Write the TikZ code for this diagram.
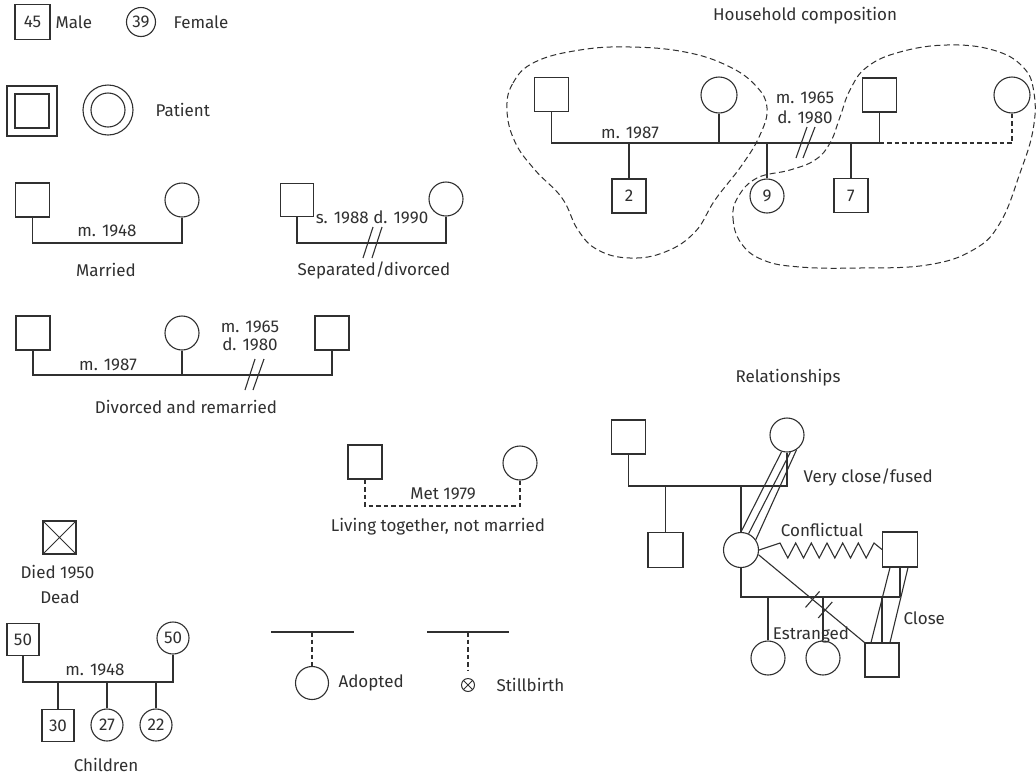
\documentclass[tikz,border=0pt]{standalone}
\usepackage{fontspec}
\setmainfont{Fira Sans}
\usetikzlibrary{calc}
\definecolor{ink}{HTML}{303030}
\newcommand{\gfont}{\fontsize{17}{20}\selectfont}
\begin{document}
\begin{tikzpicture}[x=1pt,y=-1pt,line width=1.1pt,color=ink,
  every node/.style={font=\gfont,text=ink},
  sq/.style={draw,rectangle,minimum size=34pt,inner sep=0pt},
  ci/.style={draw,circle,minimum size=34pt,inner sep=0pt},
  lab/.style={inner sep=0pt},
  labw/.style={inner sep=0pt,anchor=west},
  dsh/.style={dash pattern=on 4.5pt off 3pt},
  blob/.style={line width=1pt,dash pattern=on 6pt off 3.5pt},
  xmark/.style={path picture={\draw[line width=1pt] (path picture bounding box.north west) -- (path picture bounding box.south east) (path picture bounding box.north east) -- (path picture bounding box.south west);}}]
\useasboundingbox[fill=white] (0,0) rectangle (1036,777);

% ---------- key: male / female / patient
\node[sq,minimum size=35pt] (m45) at (32.5,22) {45};
\node[labw] (tmale) at (55,22) {Male};
\node[ci,minimum size=29pt] (f39) at (141,22) {39};
\node[labw] (tfemale) at (173,22) {Female};
\node[sq,minimum size=50pt] (pso) at (32,111) {};
\node[sq] (psi) at (32,111) {};
\node[ci,minimum size=50pt] (pco) at (108,110) {};
\node[ci] (pci) at (108,110) {};
\node[labw] (tpat) at (155,110) {Patient};

% ---------- married
\node[sq] (ma) at (32.5,200) {};
\node[ci] (mb) at (182,200) {};
\draw (ma.south) |- (mb.south |- 0,243) -- (mb.south);
\node[lab] (tm48) at (107,231) {m. 1948};
\node[lab] (tmar) at (106,270) {Married};

% ---------- separated / divorced
\node[sq,minimum size=33pt] (sa) at (297,200) {};
\node[ci] (sb) at (446,199) {};
\draw (sa.south) |- (sb.south |- 0,243) -- (sb.south);
\node[lab] (tsd) at (372,217) {s. 1988 d. 1990};
\draw (363,258) -- (373,227) (372,258) -- (382,227);
\node[lab] (tsep) at (374,270) {Separated/divorced};

% ---------- divorced and remarried
\node[sq] (da) at (33,333) {};
\node[ci] (db) at (182,333) {};
\node[sq] (dc) at (332,333) {};
\draw (da.south) |- (dc.south |- 0,375) -- (dc.south);
\draw (db.south) -- (db.south |- 0,375);
\node[lab] (td87) at (108,365) {m. 1987};
\node[lab] (td65) at (250,327) {m. 1965};
\node[lab] (td80) at (250,344) {d. 1980};
\draw (245,390) -- (255,359) (253,390) -- (264,359);
\node[lab] (tdiv) at (186,407) {Divorced and remarried};

% ---------- living together
\node[sq] (la) at (365,462) {};
\node[ci] (lfem) at (520,463) {};
\draw[dsh] (la.south) |- (lfem.south |- 0,506) -- (lfem.south);
\node[lab] (tmet) at (443,494) {Met 1979};
\node[lab] (tliv) at (438,527) {Living together, not married};

% ---------- dead
\node[sq,minimum size=33pt,xmark] (dead) at (59.5,537.5) {};
\node[lab] (tdied) at (57.5,572) {Died 1950};
\node[lab] (tdead) at (60,597) {Dead};

% ---------- children
\node[sq,minimum size=32pt] (c50m) at (23,639.5) {50};
\node[ci,minimum size=32pt] (c50f) at (173,638) {50};
\draw (c50m.south) |- (c50f.south |- 0,682) -- (c50f.south);
\node[sq,minimum size=32pt] (c30) at (58,725.5) {30};
\node[ci,minimum size=32pt] (c27) at (107,725) {27};
\node[ci,minimum size=32pt] (c22) at (156,725) {22};
\draw (c30.north) -- (c30.north |- 0,682);
\draw (c27.north) -- (c27.north |- 0,682);
\draw (c22.north) -- (c22.north |- 0,682);
\node[lab] (tc48) at (95,670) {m. 1948};
\node[lab] (tchild) at (106,765) {Children};

% ---------- adopted / stillbirth
\coordinate (ad1) at (271,632); \coordinate (ad2) at (354,632);
\draw (ad1) -- (ad2);
\node[ci,minimum size=33pt] (adopt) at (312,683) {};
\draw[dsh] (adopt.north |- ad1) -- (adopt.north);
\node[labw] (tadopt) at (338,683) {Adopted};
\coordinate (st1) at (427,632); \coordinate (st2) at (509,632);
\draw (st1) -- (st2);
\node[draw,circle,minimum size=13pt,inner sep=0pt,line width=1pt,xmark] (still) at (468,685) {};
\draw[dsh,shorten >=8pt] (still.north |- st1) -- (still.north);
\node[labw] (tstill) at (496,685) {Stillbirth};

% ---------- household composition
\node[lab] (thh) at (805,16) {Household composition};
\node[sq] (h1) at (551.5,94.5) {};
\node[ci,minimum size=36pt] (h2) at (719,95) {};
\node[sq] (h3) at (879.5,95) {};
\node[ci,minimum size=36pt] (h4) at (1012,95) {};
\draw (h1.south) |- (h3.south |- 0,143) -- (h3.south);
\draw (h2.south) -- (h2.south |- 0,143);
\draw[dsh] (h3.south |- 0,143) -| (h4.south);
\node[sq] (h5) at (629,196) {2};
\node[ci] (h6) at (767,196) {9};
\node[sq] (h7) at (851,195.5) {7};
\draw (h5.north) -- (h5.north |- 0,143);
\draw (h6.north) -- (h6.north |- 0,143);
\draw (h7.north) -- (h7.north |- 0,143);
\node[lab] (th87) at (630,133) {m. 1987};
\node[lab] (th65) at (805,98) {m. 1965};
\node[lab] (th80) at (805,117) {d. 1980};
\draw (796,158) -- (807,127) (803,158) -- (815,127);
\draw[blob] plot[smooth cycle,tension=0.7] coordinates {
  (507,110) (513,83) (535,62) (580,50) (630,47) (685,52) (728,66) (756,86)
  (767,108) (760,135) (742,165) (715,200) (695,232) (665,252) (630,258)
  (598,250) (578,230) (562,198) (535,170) (515,142)};
\draw[blob] plot[smooth cycle,tension=0.7] coordinates {
  (738,197) (733,218) (741,243) (763,260) (800,267) (860,268) (927,265)
  (973,250) (1000,223) (1020,173) (1033,130) (1034,93) (1023,67) (993,50)
  (947,45) (900,52) (867,67) (850,90) (840,117) (830,143) (815,160)
  (790,170) (757,178)};

% ---------- relationships
\node[lab] (trel) at (788,378) {Relationships};
\node[sq] (r1) at (628.5,437) {};
\node[ci] (r2) at (787,435) {};
\draw (r1.south) |- (r2.south |- 0,486) -- (r2.south);
\node[sq,minimum size=35pt] (r3) at (665.5,550) {};
\node[ci,minimum size=35pt] (r4) at (741,550) {};
\draw (r3.north) -- (r3.north |- 0,486);
\draw (r4.north) -- (r4.north |- 0,486);
\node[sq,minimum size=35pt] (r5) at (900,549.5) {};
\node[ci] (r6) at (768,658) {};
\node[ci] (r7) at (823,658) {};
\node[sq] (r8) at (882,660) {};
\draw (r4.south) |- (r5.south |- 0,597);
\draw (r5.south) -- (r5.south |- 0,597);
\draw (r6.north) -- (r6.north |- 0,597);
\draw (r7.north) -- (r7.north |- 0,597);
\draw (r8.north) -- (r8.north |- 0,597);
% very close / fused
\draw (r4.90) -- (r2.-108);
\draw (r4.65) -- (r2.-79);
\draw (r4.35) -- (r2.-57);
\node[labw] (tvc) at (803,477) {Very close/fused};
% conflictual
\draw (r4.east) -- (780,543) -- (787.8,558) -- (795.7,543) -- (803.5,558) -- (811.3,543)
  -- (819.2,558) -- (827,543) -- (834.8,558) -- (842.7,543) -- (850.5,558)
  -- (858.3,543) -- (866.2,558) -- (874,543) -- (r5.west);
\node[lab] (tconf) at (822,530) {Conflictual};
% estranged
\draw (r4.-15) -- (r8.north west);
\coordinate (tk1) at ($(r4.-15)!0.51!(r8.north west)$);
\coordinate (tk2) at ($(r4.-15)!0.63!(r8.north west)$);
\draw ([shift={(-7,8)}]tk1) -- ([shift={(7,-8)}]tk1);
\draw ([shift={(-7,8)}]tk2) -- ([shift={(7,-8)}]tk2);
\node[lab] (test) at (811,635) {Estranged};
% close
\draw ([xshift=-10pt]r5.south) -- ([xshift=-11pt]r8.north);
\draw ([xshift=8pt]r5.south) -- ([xshift=8pt]r8.north);
\node[labw] (tclose) at (903,618) {Close};
\end{tikzpicture}
\end{document}
